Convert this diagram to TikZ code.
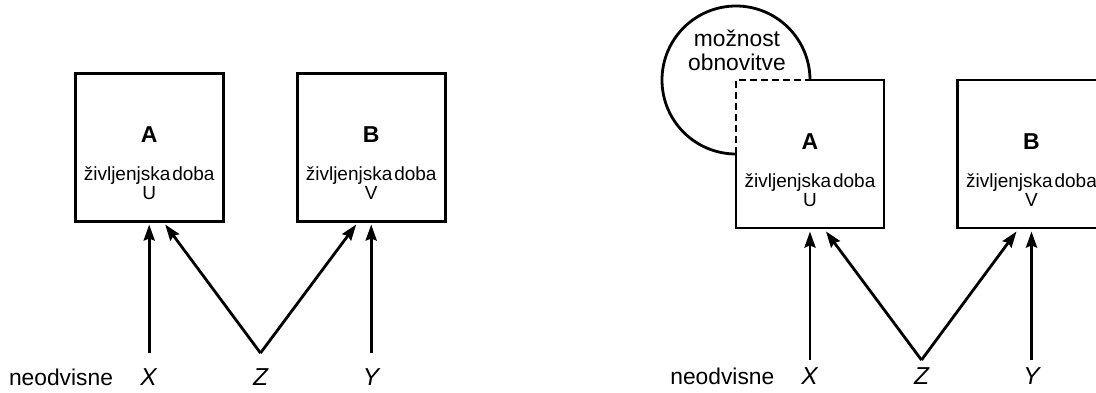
\documentclass[tikz,border=0pt]{standalone}
\usepackage{fontspec}
\setmainfont{Liberation Sans}
\usetikzlibrary{arrows.meta,calc}
\newcommand{\lifetime}{življenjska\hspace{0.1em}doba}

\begin{document}
\begin{tikzpicture}[x=1pt,y=-1pt,
  unit/.style={rectangle, minimum width=148pt, minimum height=148pt,
               inner sep=0pt, outer sep=0pt},
  framed/.style={draw, line width=2.8pt},
  title/.style={font=\fontsize{23}{27}\selectfont\bfseries, anchor=base},
  life/.style={font=\fontsize{19}{22}\selectfont, anchor=base},
  var/.style={font=\fontsize{24.5}{29}\selectfont\itshape, anchor=base},
  plain/.style={font=\fontsize{22.8}{27}\selectfont, anchor=base},
  link/.style={line width=2.8pt, -{Stealth[length=16pt,width=11pt,inset=2pt]}},
  dashedline/.style={line width=2.8pt, dash pattern=on 7pt off 4pt},
]
\useasboundingbox (0,0) rectangle (1096,392);
\clip (0,0) rectangle (1096,392);

% ---------- left: independent components ----------
\node[unit, framed] (A1) at (149.2,147.5) {};
\node[unit, framed] (B1) at (371.2,147.5) {};
\node[title] (A1t) at (149.2,142) {A};
\node[life]  (A1l) at (149.2,180) {\lifetime};
\node[life]  (A1u) at (149.2,199.5) {U};
\node[title] (B1t) at (371.2,142) {B};
\node[life]  (B1l) at (371.2,180) {\lifetime};
\node[life]  (B1u) at (371.2,199.5) {V};

\node[plain] (n1) at (61,385) {neodvisne};
\node[var] (x1) at (148.5,385) {X};
\node[var] (z1) at (260.5,385) {Z};
\node[var] (y1) at (371,385) {Y};

\coordinate (px1) at (149.2,353);
\coordinate (pz1) at (260.5,353);
\coordinate (py1) at (371.2,353);

\draw[link] (px1) -- ($(A1.south)+(0,3)$);
\draw[link] (pz1) -- ($(A1.south)+(16,3)$);
\draw[link] (pz1) -- ($(B1.south)+(-15,3)$);
\draw[link] (py1) -- ($(B1.south)+(0,3)$);

% ---------- right: component A with renewal ----------
\node[unit] (A2) at (810,154) {};
\node[unit, framed] (B2) at (1031.5,154) {};

% renewal circle centred on the upper left corner of A
\draw[line width=2.8pt] (A2.north) arc[start angle=0, end angle=270, radius=74pt];
\draw[dashedline] (A2.west) -- (A2.north west) -- (A2.north);
\draw[line width=2.8pt, line join=miter] (A2.north) -- (A2.north east)
     -- (A2.south east) -- (A2.south west) -- (A2.west);
\node[font=\fontsize{22.8}{23.3}\selectfont, align=center, anchor=base]
     (renew) at (737,70) {možnost\\obnovitve};

\node[title] (A2t) at (810,149) {A};
\node[life]  (A2l) at (810,187) {\lifetime};
\node[life]  (A2u) at (810,206.5) {U};
\node[title] (B2t) at (1031.5,149) {B};
\node[life]  (B2l) at (1031.5,187) {\lifetime};
\node[life]  (B2u) at (1031.5,206.5) {V};

\node[plain] (n2) at (722.3,384) {neodvisne};
\node[var] (x2) at (809.5,384) {X};
\node[var] (z2) at (921.5,384) {Z};
\node[var] (y2) at (1031.5,384) {Y};

\coordinate (px2) at (810,360);
\coordinate (pz2) at (921.5,360);
\coordinate (py2) at (1031.5,360);

\draw[link] (px2) -- ($(A2.south)+(0,3.5)$);
\draw[link] (pz2) -- ($(A2.south)+(16,3.5)$);
\draw[link] (pz2) -- ($(B2.south)+(-15,3.5)$);
\draw[link] (py2) -- ($(B2.south)+(0,3.5)$);
\end{tikzpicture}
\end{document}
